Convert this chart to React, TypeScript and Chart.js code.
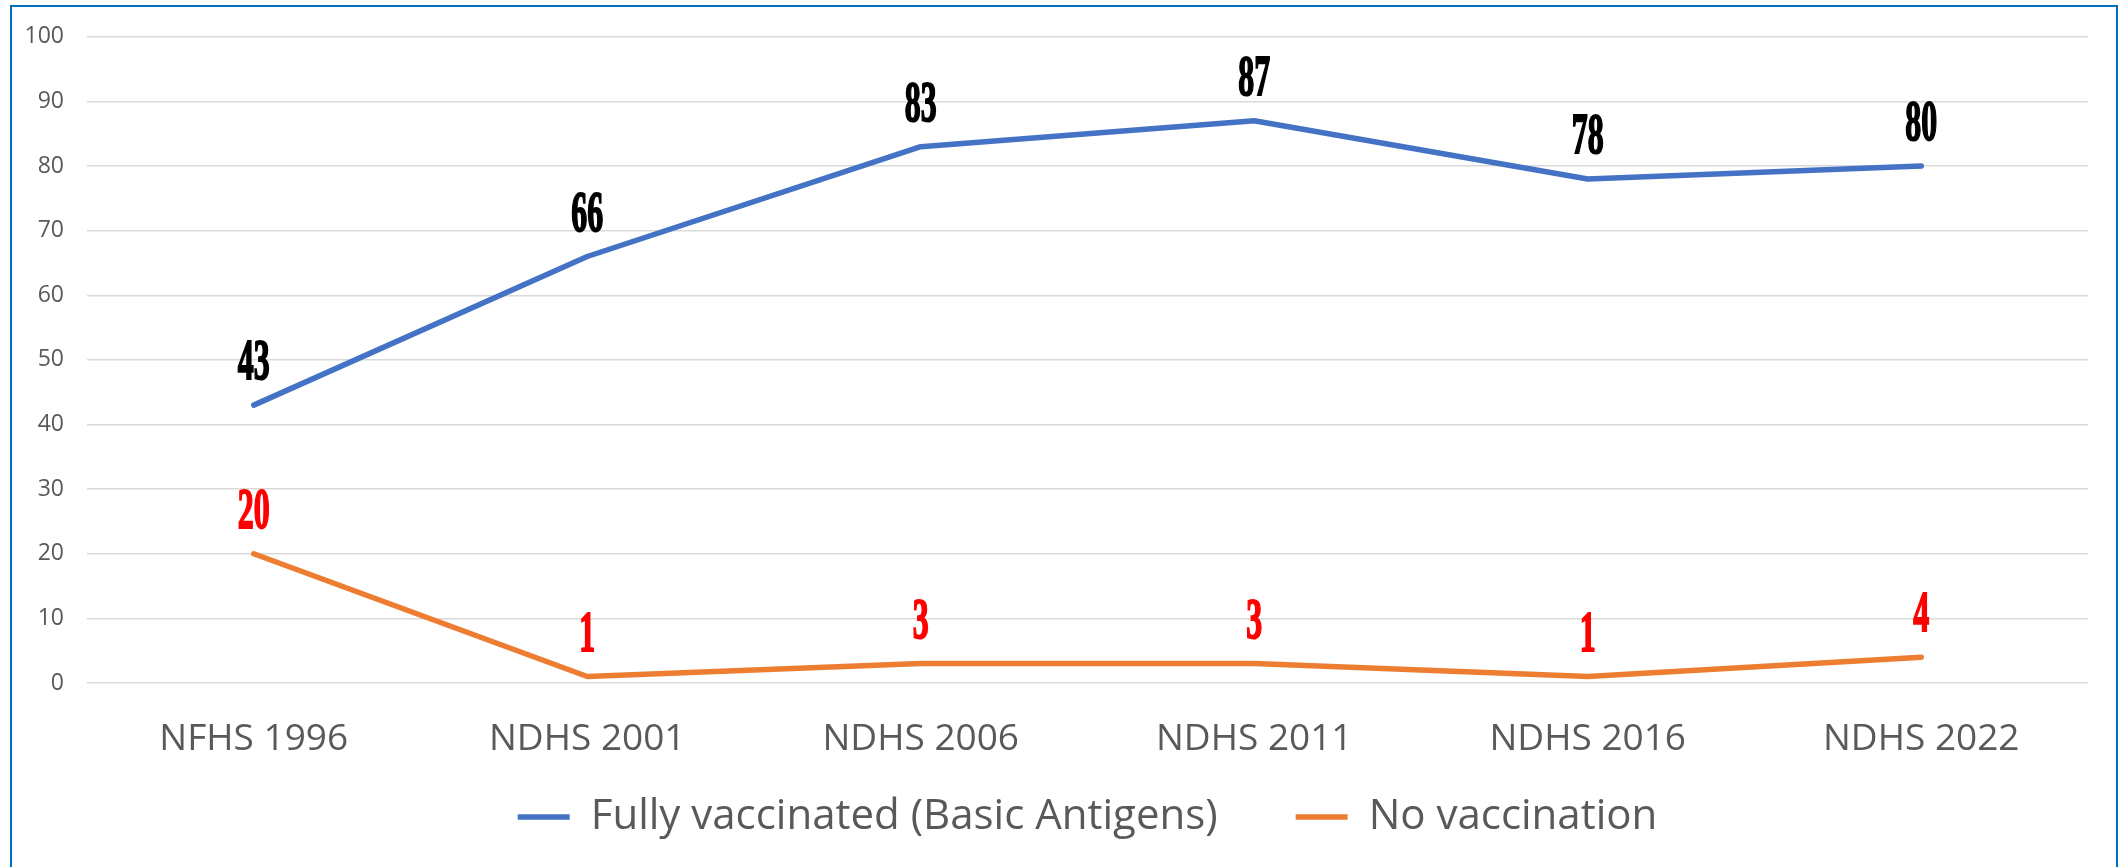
import React, { useEffect, useRef } from "react";
import { Chart, registerables } from "chart.js";

Chart.register(...registerables);

const categories = ["NFHS 1996", "NDHS 2001", "NDHS 2006", "NDHS 2011", "NDHS 2016", "NDHS 2022"];
const fullyVaccinated = [43, 66, 83, 87, 78, 80];
const noVaccination = [20, 1, 3, 3, 1, 4];
const seriesNames = ["Fully vaccinated (Basic Antigens)", "No vaccination"];
const seriesColors = ["#4472C4", "#ED7D31"];
const labelColors = ["#000000", "#FF0000"];

const W = 2119;
const H = 867;
const TEXT = "#595959";
const FONT = "'Open Sans'";

const valueLabelPlugin = {
  id: "valueLabels",
  afterDatasetsDraw(chart: any) {
    const ctx = chart.ctx;
    chart.data.datasets.forEach((ds: any, di: number) => {
      const meta = chart.getDatasetMeta(di);
      meta.data.forEach((pt: any, i: number) => {
        const v = ds.data[i];
        ctx.save();
        ctx.translate(pt.x, pt.y - 26);
        ctx.scale(0.55, 1);
        ctx.font = 'bold 58px "Liberation Serif"';
        ctx.fillStyle = labelColors[di];
        ctx.strokeStyle = labelColors[di];
        ctx.lineWidth = 2;
        ctx.textAlign = "center";
        ctx.textBaseline = "alphabetic";
        ctx.fillText(String(v), 0, 0);
        ctx.strokeText(String(v), 0, 0);
        ctx.restore();
      });
    });
  },
};

export default function App() {
  const ref = useRef<HTMLCanvasElement | null>(null);

  useEffect(() => {
    if (!ref.current) return;
    const chart = new Chart(ref.current, {
      type: "line",
      data: {
        labels: categories,
        datasets: [
          {
            label: seriesNames[0],
            data: fullyVaccinated,
            borderColor: seriesColors[0],
            backgroundColor: seriesColors[0],
            borderWidth: 5.5,
            borderCapStyle: "round",
            borderJoinStyle: "round",
            pointRadius: 0,
            pointHoverRadius: 0,
            tension: 0,
          },
          {
            label: seriesNames[1],
            data: noVaccination,
            borderColor: seriesColors[1],
            backgroundColor: seriesColors[1],
            borderWidth: 5.5,
            borderCapStyle: "round",
            borderJoinStyle: "round",
            pointRadius: 0,
            pointHoverRadius: 0,
            tension: 0,
          },
        ],
      },
      options: {
        animation: false,
        responsive: false,
        devicePixelRatio: 1,
        layout: { padding: { top: 33, right: 31, bottom: 19, left: 0 } },
        plugins: {
          tooltip: { enabled: false },
          legend: {
            position: "bottom",
            fullSize: false,
            labels: {
              usePointStyle: true,
              pointStyle: "line",
              pointStyleWidth: 52,
              padding: 78,
              color: TEXT,
              font: { family: FONT, size: 42 },
            },
          },
        },
        scales: {
          x: {
            offset: true,
            grid: { display: false, drawTicks: false, offset: true },
            border: { display: false },
            ticks: {
              color: TEXT,
              mirror: true,
              padding: -79,
              maxRotation: 0,
              autoSkip: false,
              font: { family: FONT, size: 37 },
            },
            afterFit: (s: any) => {
              s.height = 35;
            },
          },
          y: {
            min: 0,
            max: 100,
            grid: { color: "#D9D9D9", lineWidth: 1.5, drawTicks: false },
            border: { display: false },
            ticks: {
              stepSize: 10,
              color: TEXT,
              padding: 23,
              font: { family: FONT, size: 23 },
            },
            afterFit: (s: any) => {
              s.width = 87;
            },
          },
        },
      },
      plugins: [valueLabelPlugin],
    });
    return () => chart.destroy();
  }, []);

  return (
    <div style={{ position: "fixed", left: 0, top: 0, width: W, height: H, background: "#fff", overflow: "hidden" }}>
      <canvas ref={ref} width={W} height={H} style={{ position: "absolute", left: 0, top: 0, width: W, height: H }} />
      <div
        style={{
          position: "absolute",
          left: 10,
          top: 5,
          width: 2104,
          height: 900,
          border: "2px solid #0070C0",
          pointerEvents: "none",
        }}
      />
    </div>
  );
}
